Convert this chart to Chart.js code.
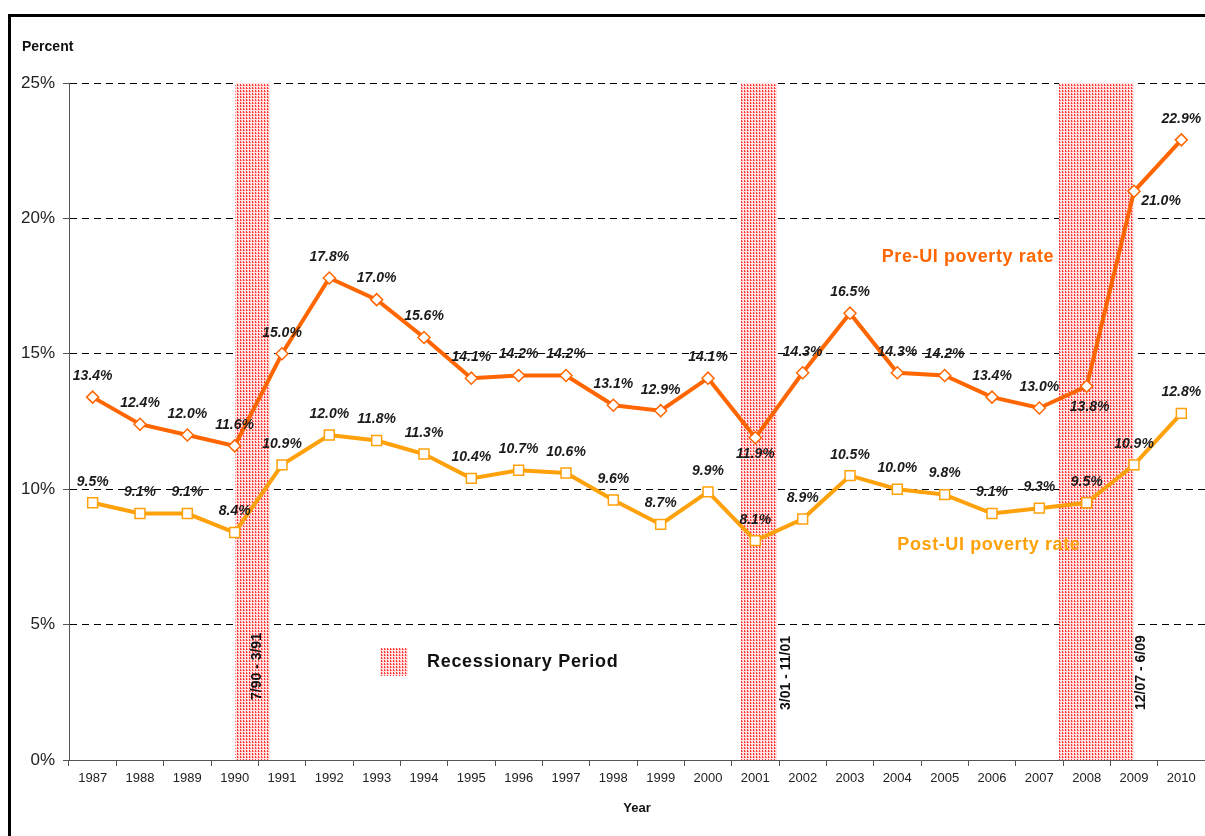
<!DOCTYPE html>
<html><head><meta charset="utf-8">
<script src="https://cdn.jsdelivr.net/npm/chart.js@4.4.0/dist/chart.umd.min.js"></script>
<style>html,body{margin:0;padding:0;background:#fff;}#wrap{width:1205px;height:836px;position:relative;}</style>
</head><body><div id="wrap"><canvas id="c" width="1205" height="836"></canvas></div>
<script>
const years = ['1987','1988','1989','1990','1991','1992','1993','1994','1995','1996','1997','1998','1999','2000','2001','2002','2003','2004','2005','2006','2007','2008','2009','2010'];
const preUI = [13.4,12.4,12.0,11.6,15.0,17.8,17.0,15.6,14.1,14.2,14.2,13.1,12.9,14.1,11.9,14.3,16.5,14.3,14.2,13.4,13.0,13.8,21.0,22.9];
const postUI = [9.5,9.1,9.1,8.4,10.9,12.0,11.8,11.3,10.4,10.7,10.6,9.6,8.7,9.9,8.1,8.9,10.5,10.0,9.8,9.1,9.3,9.5,10.9,12.8];
const yTickValues = [0,5,10,15,20,25];
const recessionStart = [1990.0, 2000.69, 2007.41];
const recessionEnd = [1990.74, 2001.45, 2009.0];
const recessionLabels = ['7/90 - 3/91','3/01 - 11/01','12/07 - 6/09'];
const seriesNames = ['Pre-UI poverty rate','Post-UI poverty rate'];
const legendText = 'Recessionary Period';

// style / placement (not data)
const FONT = '"Liberation Sans", Arial, sans-serif';
const PRE_COLOR = '#FF6600';
const POST_COLOR = '#FFA10A';
const labelPlacement = [
  {14:[0,16], 21:[3,21], 22:[27,10]},
  {}
];
const bandLabelPos = [[1990.47, 700],[2001.66, 710],[2009.15, 710]];
const seriesLabelPos = [[2003.67, 18.57],[2004.0, 7.94]];
const legendPos = [1993.06, 4.14];

function yearIndex(y){ return y - 1987; }

function makePattern(ctx){
  const p = document.createElement('canvas'); p.width = 3; p.height = 3;
  const c = p.getContext('2d');
  c.fillStyle = '#ffe4e4'; c.fillRect(0,0,3,3);
  c.fillStyle = '#ff3535';
  c.fillRect(0,0,1,2);
  c.fillStyle = '#ff8080';
  c.fillRect(1,1,1,1);
  return ctx.createPattern(p,'repeat');
}

const decor = {
  id:'decor',
  beforeDraw(chart){
    const ctx = chart.ctx;
    ctx.save();
    ctx.fillStyle = '#fff'; ctx.fillRect(0,0,chart.width,chart.height);
    ctx.fillStyle = '#000';
    ctx.fillRect(8,14,3,chart.height-14);
    ctx.fillRect(8,14,chart.width-8,3);
    ctx.font = 'bold 14px ' + FONT;
    ctx.textBaseline = 'middle'; ctx.textAlign = 'left';
    ctx.fillStyle = '#111';
    ctx.fillText('Percent', 22, 47);
    ctx.font = 'bold 13px ' + FONT; ctx.textAlign = 'center';
    const a = chart.chartArea;
    ctx.fillText('Year', (a.left + a.right)/2, 808);
    ctx.restore();
  },
  beforeDatasetsDraw(chart){
    const ctx = chart.ctx, xs = chart.scales.x, ys = chart.scales.y;
    const pat = makePattern(ctx);
    ctx.save();
    const top = ys.getPixelForValue(25), bot = ys.getPixelForValue(0);
    for (let i=0;i<recessionStart.length;i++){
      const x1 = Math.round(xs.getPixelForValue(yearIndex(recessionStart[i])));
      const x2 = Math.round(xs.getPixelForValue(yearIndex(recessionEnd[i])));
      ctx.fillStyle = pat;
      ctx.fillRect(x1, top, x2-x1, bot-top);
    }
    // band labels
    ctx.fillStyle = '#111';
    ctx.font = 'bold 14px ' + FONT;
    ctx.textAlign = 'left'; ctx.textBaseline = 'middle';
    for (let i=0;i<recessionLabels.length;i++){
      const x = xs.getPixelForValue(yearIndex(bandLabelPos[i][0]));
      ctx.save();
      ctx.translate(x, bandLabelPos[i][1]);
      ctx.rotate(-Math.PI/2);
      ctx.fillText(recessionLabels[i], 0, 0);
      ctx.restore();
    }
    // legend swatch
    const lx1 = Math.round(xs.getPixelForValue(yearIndex(legendPos[0])));
    const ly1 = Math.round(ys.getPixelForValue(legendPos[1]));
    ctx.fillStyle = pat;
    ctx.fillRect(lx1, ly1, 28, 28);
    ctx.fillStyle = '#111';
    ctx.font = 'bold 18px ' + FONT;
    try { ctx.letterSpacing = '0.7px'; } catch(e){}
    ctx.textAlign = 'left';
    ctx.fillText(legendText, lx1 + 47, ly1 + 14);
    ctx.restore();
  },
  afterDatasetsDraw(chart){
    const ctx = chart.ctx, xs = chart.scales.x, ys = chart.scales.y;
    ctx.save();
    // series name labels
    ctx.font = 'bold 18px ' + FONT;
    ctx.textAlign = 'left'; ctx.textBaseline = 'middle';
    const colors = [PRE_COLOR, POST_COLOR];
    const spacing = ['0.6px','0.6px'];
    for (let i=0;i<2;i++){
      try { ctx.letterSpacing = spacing[i]; } catch(e){}
      ctx.fillStyle = colors[i];
      ctx.fillText(seriesNames[i], xs.getPixelForValue(yearIndex(seriesLabelPos[i][0])), ys.getPixelForValue(seriesLabelPos[i][1]));
    }
    try { ctx.letterSpacing = '0px'; } catch(e){}
    // data labels
    ctx.font = 'italic bold 14px ' + FONT;
    ctx.fillStyle = '#1a1a1a';
    ctx.textAlign = 'center';
    chart.data.datasets.forEach((ds, di) => {
      const meta = chart.getDatasetMeta(di);
      meta.data.forEach((pt, i) => {
        const off = labelPlacement[di][i] || [0,-21];
        ctx.fillText(ds.data[i].toFixed(1) + '%', pt.x + off[0], pt.y + off[1]);
      });
    });
    ctx.restore();
  }
};

new Chart(document.getElementById('c'), {
  type:'line',
  data:{
    labels: years,
    datasets:[
      {label:seriesNames[0], data:preUI, borderColor:PRE_COLOR, borderWidth:4, pointStyle:'rectRot', pointRadius:6, pointBackgroundColor:'#fff', pointBorderColor:PRE_COLOR, pointBorderWidth:1.5, tension:0, clip:false},
      {label:seriesNames[1], data:postUI, borderColor:POST_COLOR, borderWidth:4, pointStyle:'rect', pointRadius:7, pointBackgroundColor:'#fff', pointBorderColor:POST_COLOR, pointBorderWidth:1.5, tension:0, clip:false}
    ]
  },
  options:{
    responsive:false, animation:false, devicePixelRatio:1,
    layout:{autoPadding:false, padding:{top:83,left:0,right:0,bottom:0}},
    plugins:{legend:{display:false}, title:{display:false}, tooltip:{enabled:false}},
    scales:{
      x:{
        offset:true,
        ticks:{font:{size:13,family:FONT}, color:'#222', padding:5, maxRotation:0, autoSkip:false},
        grid:{display:true, drawOnChartArea:false, drawTicks:true, tickLength:6, offset:true, color:'#555'},
        border:{display:true, color:'#555', width:1},
        afterFit(s){ s.height = 76; s.paddingLeft = 0; s.paddingRight = 0; }
      },
      y:{
        min:0, max:25,
        afterBuildTicks(s){ s.ticks = yTickValues.map(v=>({value:v})); },
        ticks:{font:{size:17,family:FONT}, color:'#222', padding:8, callback:v=>v+'%'},
        grid:{color:'#000', lineWidth:1, tickLength:6, tickColor:'#555', drawTicks:true},
        border:{display:true, color:'#555', width:1, dash:[7,5]},
        afterFit(s){ s.width = 69; s.paddingTop = 0; s.paddingBottom = 0; }
      }
    }
  },
  plugins:[decor]
});
</script></body></html>
